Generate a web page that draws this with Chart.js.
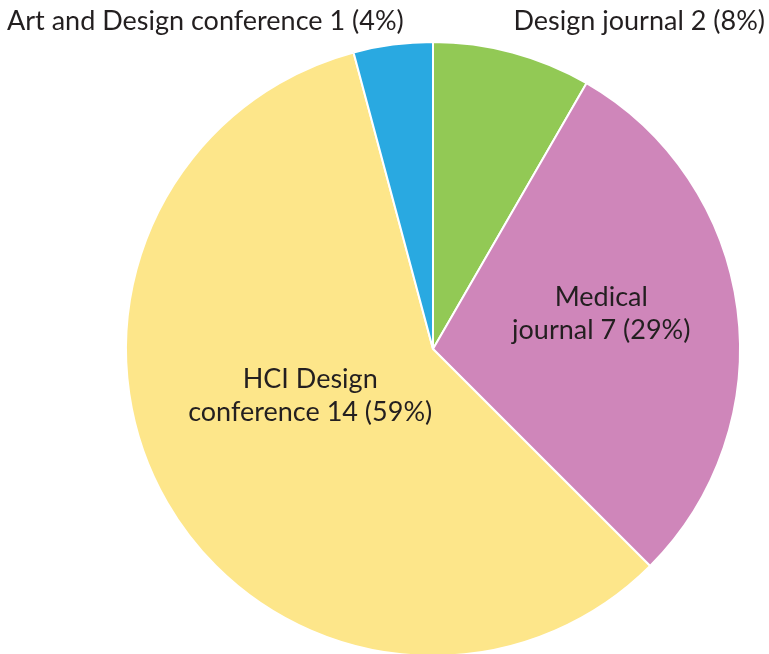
<!DOCTYPE html>
<html><head><meta charset="utf-8">
<script src="https://cdn.jsdelivr.net/npm/chart.js@4"></script>
<style>html,body{margin:0;padding:0;background:#fff;overflow:hidden}#wrap{width:769px;height:700px}</style>
</head><body><div id="wrap"><canvas id="c" width="769" height="700"></canvas></div>
<script>
const categories = ["Design journal", "Medical journal", "HCI Design conference", "Art and Design conference"];
const counts = [2, 7, 14, 1];
const percents = [8, 29, 59, 4];
const colors = ["#92C955", "#CF86BA", "#FDE68A", "#29A9E1"];

const FONT = '27px Lato';
const TXT = '#231F20';
const labelPlugin = {
  id: 'labels',
  afterDraw(chart) {
    const ctx = chart.ctx;
    const arc = chart.getDatasetMeta(0).data[0];
    const cx = arc.x, cy = arc.y, R = arc.outerRadius;
    ctx.save();
    ctx.font = FONT; ctx.fillStyle = TXT; ctx.textBaseline = 'middle';
    ctx.textAlign = 'right';
    ctx.fillText(categories[0] + ' ' + counts[0] + ' (' + percents[0] + '%)', 765, 21);
    ctx.textAlign = 'left';
    ctx.fillText(categories[3] + ' ' + counts[3] + ' (' + percents[3] + '%)', 7, 21);
    ctx.textAlign = 'center';
    ctx.fillText('Medical', cx + 0.548 * R, cy - 0.17 * R);
    ctx.fillText('journal ' + counts[1] + ' (' + percents[1] + '%)', cx + 0.548 * R, cy - 0.062 * R);
    ctx.fillText('HCI Design', cx - 0.4 * R, cy + 0.1 * R);
    ctx.fillText('conference ' + counts[2] + ' (' + percents[2] + '%)', cx - 0.4 * R, cy + 0.205 * R);
    ctx.restore();
  }
};

new Chart(document.getElementById('c'), {
  type: 'pie',
  data: { labels: categories, datasets: [{ data: counts, backgroundColor: colors, borderColor: '#ffffff', borderWidth: 2 }] },
  options: {
    responsive: false, animation: false,
    layout: { padding: { left: 125, right: 28, top: 41, bottom: 43 } },
    plugins: { legend: { display: false }, tooltip: { enabled: false } }
  },
  plugins: [labelPlugin]
});
</script></body></html>
